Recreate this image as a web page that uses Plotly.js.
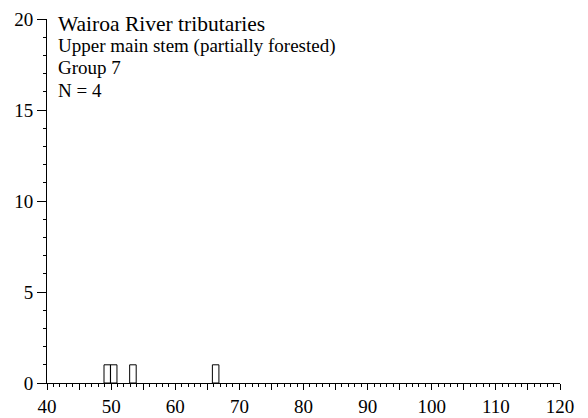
<!DOCTYPE html>
<html>
<head>
<meta charset="utf-8">
<script src="https://cdn.plot.ly/plotly-3.0.1.min.js"></script>
<style>html,body{margin:0;padding:0;background:#fff;}</style>
</head>
<body>
<div id="chart" style="width:588px;height:418px;"></div>
<script>
// Histogram bins (bin centre) and counts
var binCentres = [49.4, 50.4, 53.4, 66.3];
var counts = [1, 1, 1, 1];
var binWidth = 1.02;

var titleLines = [
  "Wairoa River tributaries",
  "Upper main stem (partially forested)",
  "Group 7",
  "N = 4"
];

var serif = "Liberation Serif";

var trace = {
  type: 'bar',
  x: binCentres,
  y: counts,
  width: binCentres.map(function(){ return binWidth; }),
  marker: {color: 'rgba(255,255,255,0)', line: {color: '#000', width: 1}},
  hoverinfo: 'skip'
};

function ann(text, y, size) {
  return {text: text, x: 0.02, y: y, xref: 'paper', yref: 'paper', xanchor: 'left', yanchor: 'top',
          showarrow: false, borderpad: 0, font: {family: serif, size: size, color: '#000'}};
}

var annotations = [
  ann(titleLines[0], 1.022, 21.5),
  ann(titleLines[1], 0.958, 19),
  ann(titleLines[2], 0.897, 19),
  ann(titleLines[3], 0.836, 19)
];

var layout = {
  width: 588, height: 418,
  margin: {l: 47, r: 28, t: 19, b: 35, pad: 0},
  paper_bgcolor: '#fff', plot_bgcolor: '#fff',
  showlegend: false,
  bargap: 0,
  font: {family: serif, size: 19, color: '#000'},
  xaxis: {
    range: [40, 120], showgrid: false, zeroline: false,
    showline: true, linecolor: '#000', linewidth: 1,
    ticks: 'outside', tickmode: 'linear', tick0: 40, dtick: 5, ticklen: 6, tickcolor: '#000', tickwidth: 1,
    ticklabelstep: 2,
    minor: {dtick: 1, ticks: 'outside', ticklen: 3, tickcolor: '#000', tickwidth: 1, showgrid: false},
    tickfont: {family: serif, size: 19, color: '#000'}
  },
  yaxis: {
    range: [0, 20], showgrid: false, zeroline: false,
    showline: true, linecolor: '#000', linewidth: 1,
    ticks: 'outside', tickmode: 'linear', tick0: 0, dtick: 5, ticklen: 9, tickcolor: '#000', tickwidth: 1,
    minor: {dtick: 1, ticks: 'outside', ticklen: 3, tickcolor: '#000', tickwidth: 1, showgrid: false},
    tickfont: {family: serif, size: 19, color: '#000'}
  },
  annotations: annotations
};

Plotly.newPlot('chart', [trace], layout, {staticPlot: true, displayModeBar: false});
</script>
</body>
</html>
